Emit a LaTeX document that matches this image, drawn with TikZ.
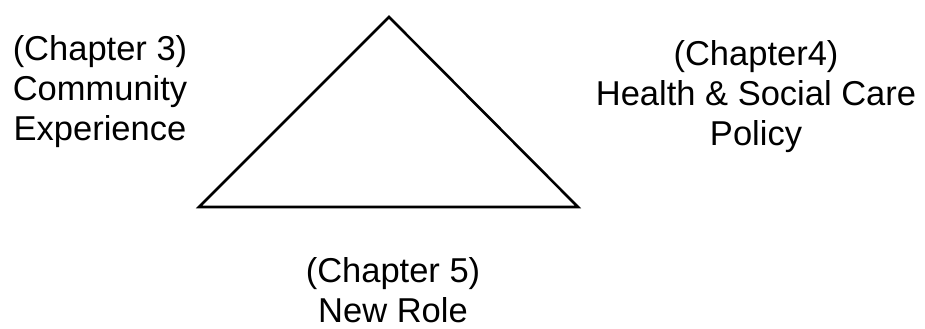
\documentclass[tikz,border=0pt]{standalone}
\usepackage{fontspec}
\setmainfont{Liberation Sans}
\usepackage{tikz}
\usetikzlibrary{positioning,calc}

\begin{document}
\begin{tikzpicture}[
    x=0.5pt, y=-0.5pt,
    lbl/.style={font=\fontsize{17.25}{20}\selectfont, align=center, inner sep=0pt},
    edge/.style={line width=1.3pt, line join=miter},
  ]
  \useasboundingbox (0,0) rectangle (925,328);

  % Triangle corners
  \coordinate (top) at (389,17);
  \coordinate (bl) at (199,207);
  \coordinate (br) at (578,207);
  \draw[edge] (top) -- (br) -- (bl) -- cycle;

  % Chapter labels
  \node[lbl] (ch3) at (100,92) {(Chapter 3)\\Community\\Experience};
  \node[lbl] (ch4) at (756,97) {(Chapter4)\\Health \& Social Care\\Policy};
  \node[lbl] (ch5) at (393,290) {(Chapter 5)\\New Role};
\end{tikzpicture}
\end{document}
